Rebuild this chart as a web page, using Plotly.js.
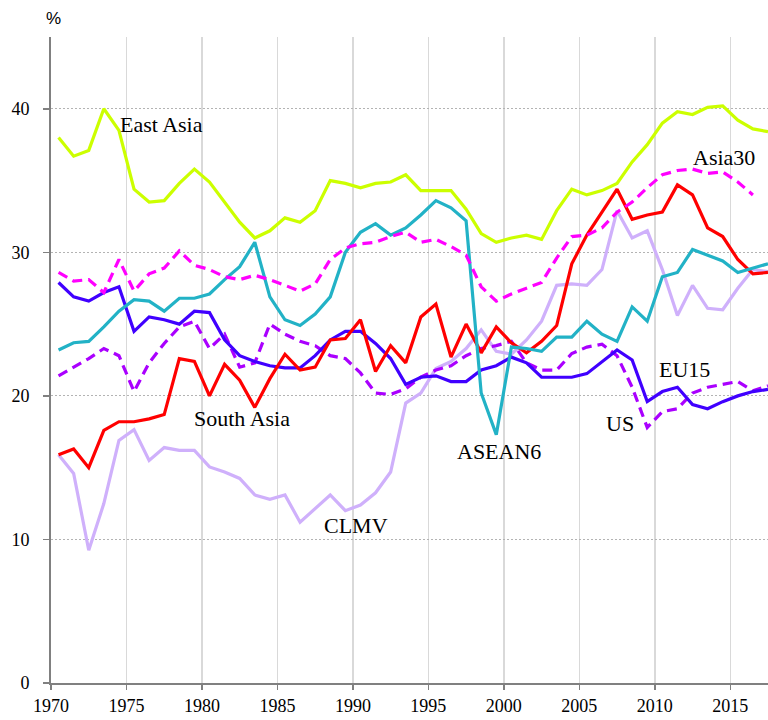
<!DOCTYPE html>
<html>
<head>
<meta charset="utf-8">
<script src="https://cdn.plot.ly/plotly-3.0.1.min.js"></script>
<style>html,body{margin:0;padding:0;background:#fff;}#chart{width:768px;height:720px;}</style>
</head>
<body>
<div id="chart"></div>
<script>
var years = [1970,1971,1972,1973,1974,1975,1976,1977,1978,1979,1980,1981,1982,1983,1984,1985,1986,1987,1988,1989,
  1990,1991,1992,1993,1994,1995,1996,1997,1998,1999,2000,2001,2002,2003,2004,2005,2006,2007,2008,2009,
  2010,2011,2012,2013,2014,2015,2016,2017];

var eastAsia = [38.0,36.7,37.1,40.0,38.5,34.4,33.5,33.6,34.8,35.8,34.9,33.5,32.1,31.0,31.5,32.4,32.1,32.9,35.0,34.8,
  34.5,34.8,34.9,35.4,34.3,34.3,34.3,33.0,31.3,30.7,31.0,31.2,30.9,32.9,34.4,34.0,34.3,34.8,36.3,37.5,
  39.0,39.8,39.6,40.1,40.2,39.2,38.6,38.4];

var asia30 = [28.6,28.0,28.1,27.2,29.5,27.3,28.5,28.9,30.1,29.1,28.8,28.3,28.1,28.4,28.1,27.7,27.3,27.8,29.5,30.3,
  30.6,30.7,31.1,31.4,30.7,30.9,30.4,29.8,27.6,26.6,27.1,27.5,27.9,29.6,31.1,31.2,31.7,32.8,33.5,34.5,
  35.4,35.7,35.8,35.5,35.6,34.9,34.0,null];

var southAsia = [15.9,16.3,15.0,17.6,18.2,18.2,18.4,18.7,22.6,22.4,20.0,22.2,21.1,19.2,21.2,22.9,21.8,22.0,23.9,24.0,
  25.3,21.7,23.5,22.3,25.5,26.4,22.7,25.0,23.0,24.8,23.7,23.0,23.8,24.9,29.2,31.2,32.8,34.4,32.3,32.6,
  32.8,34.7,34.0,31.7,31.1,29.5,28.5,28.6];

var asean6 = [23.2,23.7,23.8,24.8,25.9,26.7,26.6,25.9,26.8,26.8,27.1,28.1,29.0,30.7,26.9,25.3,24.9,25.7,26.9,30.0,
  31.4,32.0,31.2,31.7,32.6,33.6,33.1,32.2,20.2,17.3,23.4,23.3,23.1,24.1,24.1,25.2,24.3,23.8,26.2,25.2,
  28.3,28.6,30.2,29.8,29.4,28.6,28.9,29.2];

var eu15 = [27.9,26.9,26.6,27.2,27.6,24.5,25.5,25.3,25.0,25.9,25.8,23.9,22.8,22.4,22.1,21.95,21.95,22.8,23.9,24.5,
  24.5,23.65,22.6,20.8,21.3,21.4,21.0,21.0,21.8,22.1,22.7,22.3,21.3,21.3,21.3,21.55,22.4,23.2,22.5,19.6,
  20.3,20.6,19.4,19.1,19.6,20.0,20.3,20.45];

var us = [21.4,22.0,22.6,23.3,22.8,20.3,22.3,23.65,24.8,25.2,23.3,24.3,22.0,22.3,25.0,24.3,23.8,23.5,22.8,22.6,
  21.6,20.2,20.1,20.5,21.3,21.8,22.1,22.8,23.3,23.5,23.8,22.3,21.8,21.8,22.95,23.4,23.6,22.8,20.6,17.8,
  18.9,19.1,20.2,20.6,20.8,21.0,20.35,20.7];

var clmv = [15.9,14.6,9.25,12.5,16.9,17.65,15.5,16.4,16.2,16.2,15.05,14.7,14.25,13.1,12.8,13.1,11.2,12.15,13.1,12.0,
  12.4,13.25,14.7,19.5,20.2,21.9,22.4,23.3,24.6,23.1,22.9,23.9,25.2,27.7,27.8,27.7,28.8,32.9,31.0,31.5,
  28.8,25.6,27.7,26.1,26.0,27.5,28.8,28.65];

var xTickLabels = [1970,1975,1980,1985,1990,1995,2000,2005,2010,2015];
var yTickVals = [0,10,20,30,40];

function line(name, y, color, dash) {
  return {x: years, y: y, name: name, type: 'scatter', mode: 'lines',
    line: {color: color, width: 3.2, dash: dash || 'solid'}, connectgaps: false, hoverinfo: 'skip'};
}

var traces = [
  line('CLMV', clmv, '#cfb0fb'),
  line('US', us, '#aa00ff', '10px,6px'),
  line('EU15', eu15, '#4000ff'),
  line('South Asia', southAsia, '#ff0000'),
  line('ASEAN6', asean6, '#22b2c6'),
  line('Asia30', asia30, '#ff00ff', '10px,6px'),
  line('East Asia', eastAsia, '#ccff00')
];

var serif = 'Liberation Serif, Times New Roman, serif';
function lab(text, x, y) {
  return {text: text, x: x, y: y, xref: 'x', yref: 'y', xanchor: 'left', yanchor: 'middle',
    showarrow: false, font: {family: serif, size: 22, color: '#000'}};
}

var layout = {
  width: 768, height: 720,
  margin: {l: 51, r: 0, t: 37, b: 37, pad: 0},
  paper_bgcolor: '#fff', plot_bgcolor: '#fff',
  showlegend: false,
  xaxis: {
    range: [1969.5, 2017.0],
    tickvals: xTickLabels.map(function(v){return v - 0.5;}),
    ticktext: xTickLabels.map(String),
    showgrid: true, gridcolor: '#d9d9d9', gridwidth: 1.5,
    showline: true, linecolor: '#808080', linewidth: 2,
    ticks: 'outside', ticklen: 5, tickcolor: '#808080', tickwidth: 1.5,
    ticklabelstandoff: 0,
    zeroline: false,
    tickfont: {family: serif, size: 18, color: '#000'}
  },
  yaxis: {
    range: [0, 45],
    tickvals: yTickVals, ticktext: yTickVals.map(String),
    showgrid: true, gridcolor: '#b3b3b3', gridwidth: 1, griddash: '2px,2px',
    showline: true, linecolor: '#808080', linewidth: 2,
    ticks: 'outside', ticklen: 6, tickcolor: '#808080', tickwidth: 1.5,
    ticklabelstandoff: 10,
    zeroline: false,
    tickfont: {family: serif, size: 18, color: '#000'}
  },
  annotations: [
    lab('East Asia', 1973.94, 38.9),
    lab('Asia30', 2011.9, 36.6),
    lab('South Asia', 1978.84, 18.4),
    lab('ASEAN6', 1996.27, 16.1),
    lab('EU15', 2009.66, 21.85),
    lab('US', 2006.15, 18.1),
    lab('CLMV', 1987.46, 11.0),
    {text: '%', xref: 'paper', yref: 'paper', x: 0.003, y: 1.0286, xanchor: 'center', yanchor: 'middle',
     showarrow: false, font: {family: 'Liberation Sans, Arial, sans-serif', size: 17, color: '#000'}}
  ]
};

Plotly.newPlot('chart', traces, layout, {staticPlot: true, displayModeBar: false});
</script>
</body>
</html>
